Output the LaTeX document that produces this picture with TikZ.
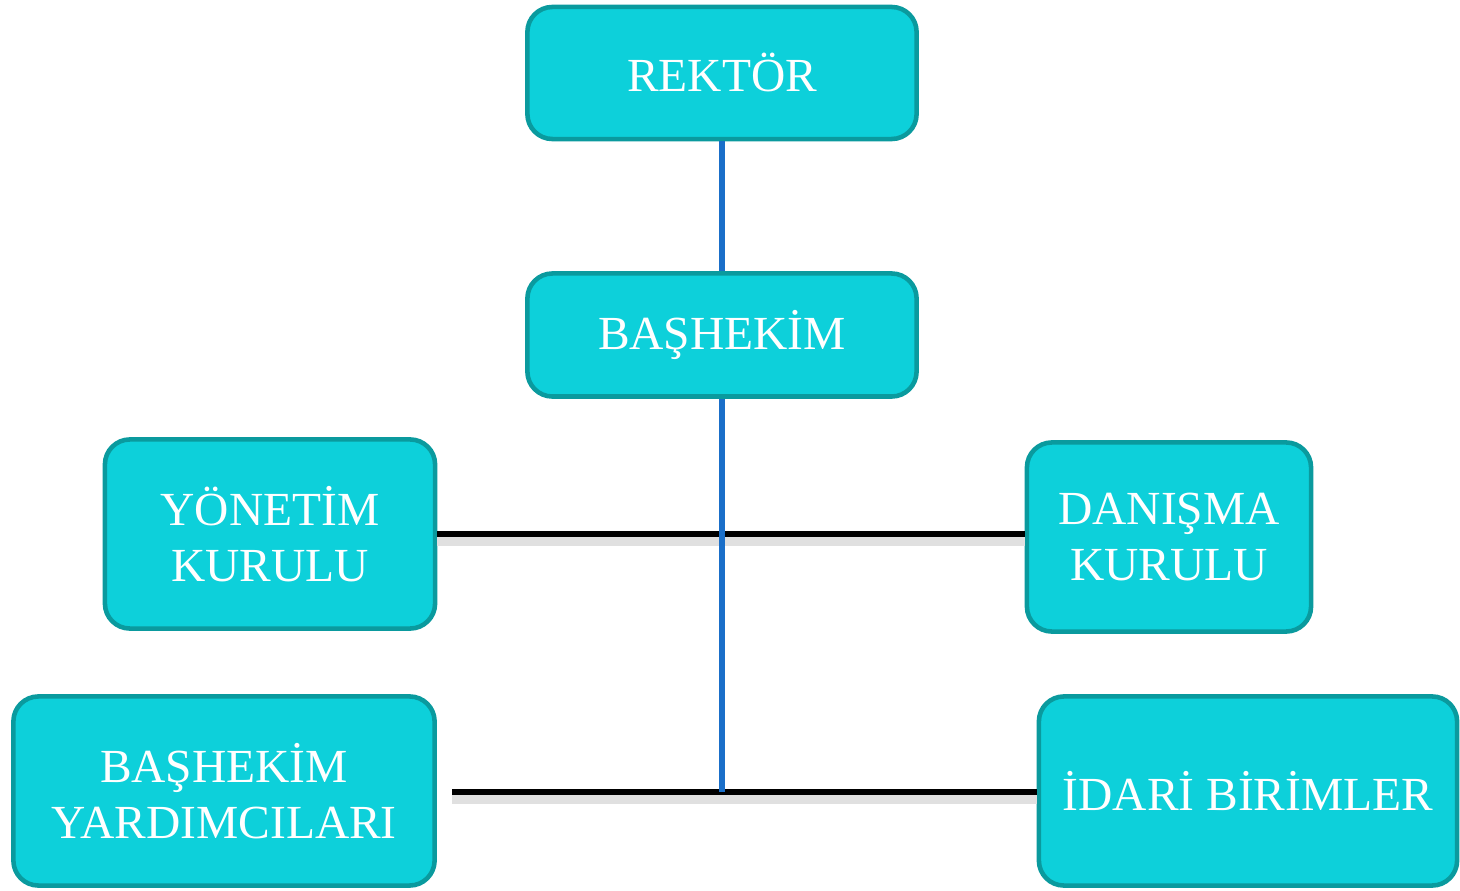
\documentclass[tikz,border=0pt]{standalone}
\usepackage{fontspec}
\setmainfont{Liberation Serif}
\usepackage{tikz}
\usetikzlibrary{arrows,positioning}

\definecolor{boxfill}{HTML}{0DD0DA}
\definecolor{boxline}{HTML}{0A9A9E}
\definecolor{vline}{HTML}{1A6FC9}

\begin{document}
\begin{tikzpicture}[x=0.01cm,y=-0.01cm,
        unit/.style={draw=boxline,fill=boxfill,line width=1.3pt,rounded corners=0.25cm,
            text=white,align=center,font=\fontsize{13.5}{16}\selectfont,inner sep=0pt},
        vlink/.style={draw=vline,line width=1.6pt},
        hlink/.style={draw=black,line width=1.7pt,
            preaction={draw=black!12,line width=3.4pt,transform canvas={yshift=-0.06cm}}}]
        \useasboundingbox (0,0) rectangle (1460,891);
        \node[unit,minimum width=3.89cm,minimum height=1.32cm] (RK) at (722,73) {REKT\"OR};
        \node[unit,minimum width=3.89cm,minimum height=1.23cm] (BH) at (722,335) {BA\c{S}HEK\.{I}M};
        \node[unit,minimum width=3.30cm,minimum height=1.89cm] (YK) at (270,534) {Y\"ONET\.{I}M\\KURULU};
        \node[unit,minimum width=2.84cm,minimum height=1.89cm] (DK) at (1169,537) {DANI\c{S}MA\\KURULU};
        \node[unit,minimum width=4.21cm,minimum height=1.89cm] (BY) at (224,791) {BA\c{S}HEK\.{I}M\\YARDIMCILARI};
        \node[unit,minimum width=4.18cm,minimum height=1.89cm] (IB) at (1248,791) {\.{I}DAR\.{I} B\.{I}R\.{I}MLER};
        \coordinate (J2) at (722,792);
        \coordinate (L2) at (452,792);
        \draw[hlink] (YK.east)--(YK.east -| DK.west);
        \draw[hlink] (L2)--(L2 -| IB.west);
        \draw[vlink] (RK)--(BH);
        \draw[vlink] (BH)--(J2);
    \end{tikzpicture}
\end{document}
